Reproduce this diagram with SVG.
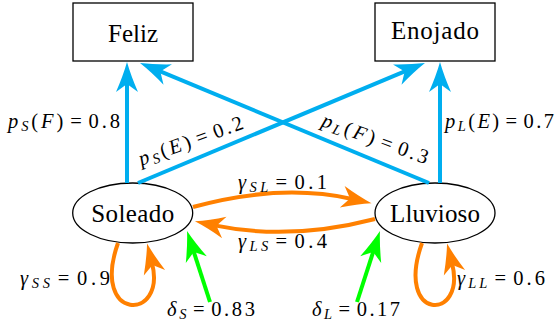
<svg xmlns="http://www.w3.org/2000/svg" width="557" height="328" viewBox="0 0 557 328">
<style>
  .box { fill: #ffffff; stroke: #000000; stroke-width: 1.3; }
  .nt { font-family: 'Liberation Serif', 'DejaVu Serif', serif; font-size: 25px; fill: #000000; text-anchor: middle; }
  .lbl { font-family: 'Liberation Serif', 'DejaVu Serif', serif; font-size: 20.5px; fill: #000000; }
  .i { font-style: italic; }
  .sub { font-style: italic; font-size: 14.5px; }
  .edge { fill: none; stroke-width: 4; stroke-linecap: butt; }
  .blue { stroke: #00aeef; marker-end: url(#ah-blue); }
  .orange { stroke: #ff8000; marker-end: url(#ah-orange); }
  .green { stroke: #00ff00; marker-end: url(#ah-green); }
</style>
<defs>
  <marker id="ah-blue" markerUnits="userSpaceOnUse" viewBox="0 -12 31 24" markerWidth="31" markerHeight="24" refX="10" refY="0" orient="auto" overflow="visible">
    <path d="M30,0 Q16,-4 0,-11 L8,0 L0,11 Q16,4 30,0 Z" fill="#00aeef"/>
  </marker>
  <marker id="ah-orange" markerUnits="userSpaceOnUse" viewBox="0 -12 31 24" markerWidth="31" markerHeight="24" refX="10" refY="0" orient="auto" overflow="visible">
    <path d="M30,0 Q16,-4 0,-11 L8,0 L0,11 Q16,4 30,0 Z" fill="#ff8000"/>
  </marker>
  <marker id="ah-green" markerUnits="userSpaceOnUse" viewBox="0 -12 31 24" markerWidth="31" markerHeight="24" refX="10" refY="0" orient="auto" overflow="visible">
    <path d="M30,0 Q16,-4 0,-11 L8,0 L0,11 Q16,4 30,0 Z" fill="#00ff00"/>
  </marker>
</defs>

<g id="node-feliz">
  <rect class="box" x="73" y="3" width="120" height="58"/>
  <text class="nt" x="133" y="41.5">Feliz</text>
</g>
<g id="node-enojado">
  <rect class="box" x="375" y="3" width="120" height="58"/>
  <text class="nt" x="435" y="38.5" textLength="88">Enojado</text>
</g>
<g id="node-soleado">
  <ellipse class="box" cx="132.7" cy="213" rx="60" ry="30"/>
  <text class="nt" x="132.7" y="222" textLength="83">Soleado</text>
</g>
<g id="node-lluvioso">
  <ellipse class="box" cx="435" cy="213" rx="60" ry="30"/>
  <text class="nt" x="435" y="222" textLength="90">Lluvioso</text>
</g>

<g id="connectors">
  <path id="e-sf" class="edge blue" d="M127,183 L127,82"/>
  <path id="e-le" class="edge blue" d="M440,183 L440,82"/>
  <path id="e-se" class="edge blue" d="M138,183 L406.5,70.7"/>
  <path id="e-lf" class="edge blue" d="M429,183 L158.5,70.7"/>
  <path id="e-sl" class="edge orange" d="M193,207 Q280,183 352,199"/>
  <path id="e-ls" class="edge orange" d="M375,219 Q290,241 214.5,225.4"/>
  <path id="e-ss" class="edge orange" d="M118,243 C90,322 167,322 152,263"/>
  <path id="e-ll" class="edge orange" d="M422,243 C394,322 467,322 452,263"/>
  <path id="e-ds" class="edge green" d="M210,302 L193.2,250"/>
  <path id="e-dl" class="edge green" d="M357,302 L373.8,250"/>
</g>

<g id="edge-labels">
  <text class="lbl" x="8" y="127.5" textLength="112"><tspan class="i">p</tspan><tspan class="sub" dy="3">S</tspan><tspan dy="-3">(</tspan><tspan class="i">F</tspan>)<tspan dx="4">=</tspan><tspan dx="4">0.8</tspan></text>
  <text class="lbl" x="445" y="127.5" textLength="109"><tspan class="i">p</tspan><tspan class="sub" dy="3">L</tspan><tspan dy="-3">(</tspan><tspan class="i">E</tspan>)<tspan dx="4">=</tspan><tspan dx="4">0.7</tspan></text>
  <text class="lbl" x="193" y="147" text-anchor="middle" textLength="110" transform="rotate(-20 193 147)"><tspan class="i">p</tspan><tspan class="sub" dy="3">S</tspan><tspan dy="-3">(</tspan><tspan class="i">E</tspan>)<tspan dx="4">=</tspan><tspan dx="4">0.2</tspan></text>
  <text class="lbl" x="373" y="145" text-anchor="middle" textLength="112" transform="rotate(20 373 145)"><tspan class="i">p</tspan><tspan class="sub" dy="3">L</tspan><tspan dy="-3">(</tspan><tspan class="i">F</tspan>)<tspan dx="4">=</tspan><tspan dx="4">0.3</tspan></text>
  <text class="lbl" x="238" y="189" textLength="89"><tspan class="i">γ</tspan><tspan class="sub" dy="3">SL</tspan><tspan dy="-3" dx="4">=</tspan><tspan dx="4">0.1</tspan></text>
  <text class="lbl" x="238" y="247.5" textLength="89"><tspan class="i">γ</tspan><tspan class="sub" dy="3">LS</tspan><tspan dy="-3" dx="4">=</tspan><tspan dx="4">0.4</tspan></text>
  <text class="lbl" x="20" y="285" textLength="90"><tspan class="i">γ</tspan><tspan class="sub" dy="3">SS</tspan><tspan dy="-3" dx="4">=</tspan><tspan dx="4">0.9</tspan></text>
  <text class="lbl" x="457" y="285" textLength="88"><tspan class="i">γ</tspan><tspan class="sub" dy="3">LL</tspan><tspan dy="-3" dx="4">=</tspan><tspan dx="4">0.6</tspan></text>
  <text class="lbl" x="167" y="315.5" textLength="88"><tspan class="i">δ</tspan><tspan class="sub" dy="3">S</tspan><tspan dy="-3" dx="4">=</tspan><tspan dx="4">0.83</tspan></text>
  <text class="lbl" x="312" y="315.5" textLength="88"><tspan class="i">δ</tspan><tspan class="sub" dy="3">L</tspan><tspan dy="-3" dx="4">=</tspan><tspan dx="4">0.17</tspan></text>
</g>
</svg>
